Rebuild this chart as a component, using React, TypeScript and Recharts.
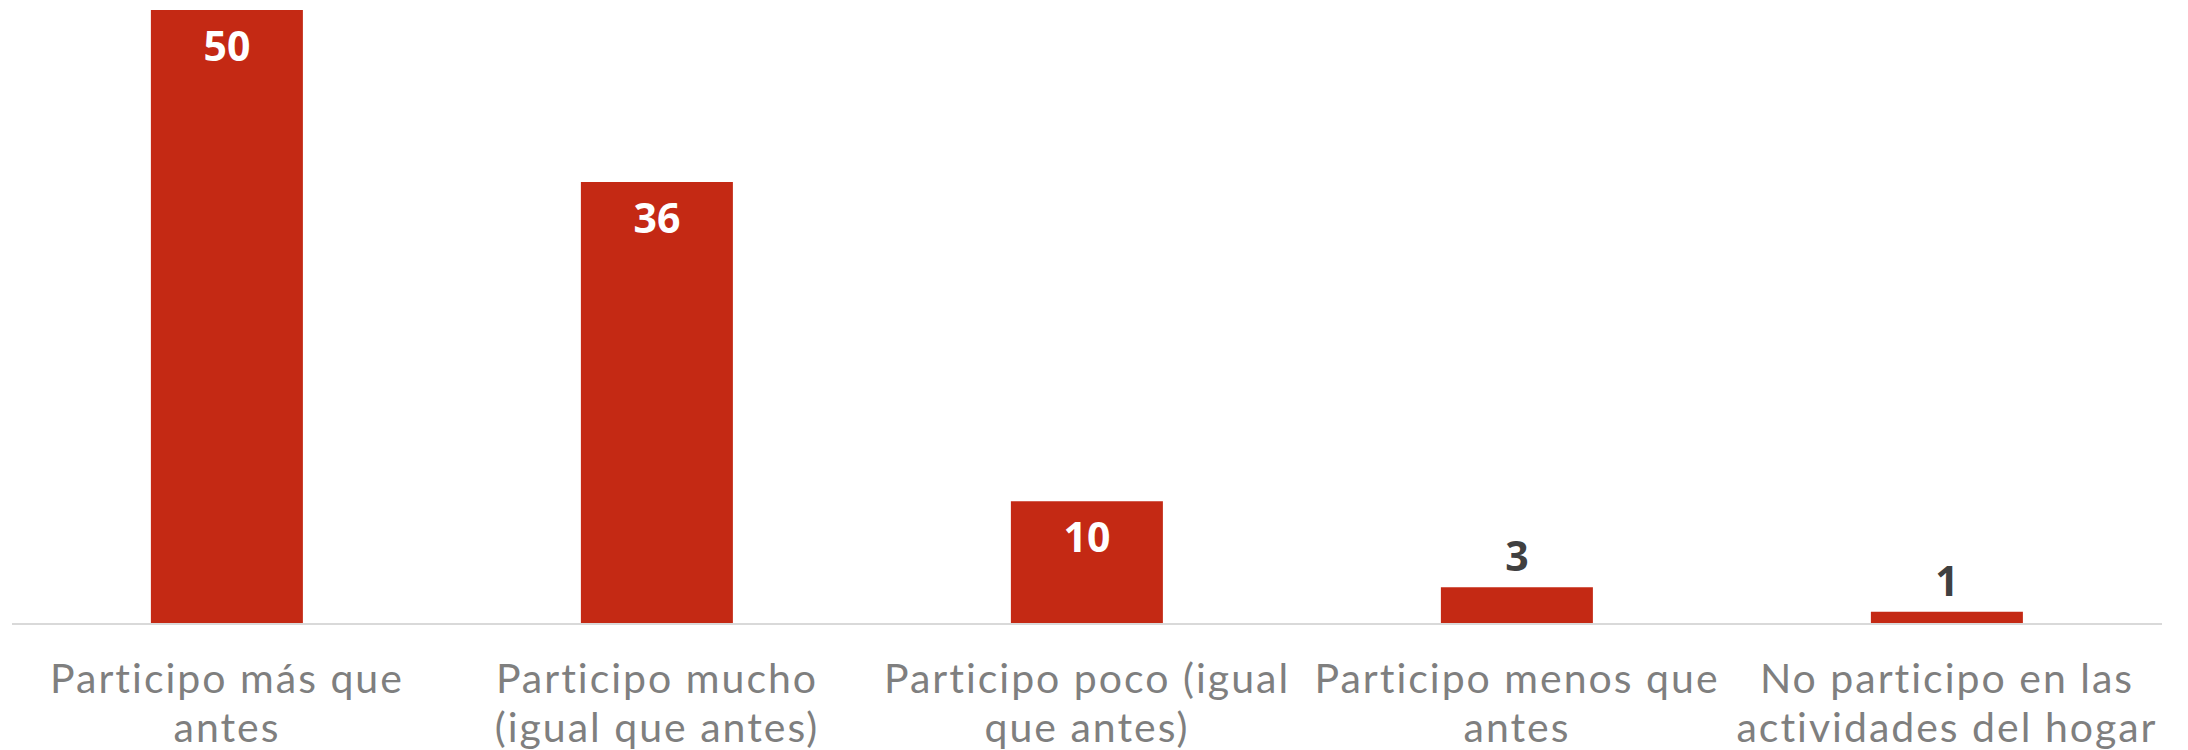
import React from "react";
import { BarChart, Bar, XAxis, YAxis, LabelList } from "recharts";

const categories = [
  "Participo más que\nantes",
  "Participo mucho\n(igual que antes)",
  "Participo poco (igual\nque antes)",
  "Participo menos que\nantes",
  "No participo en las\nactividades del hogar",
];
const values = [50, 36, 10, 3, 1];

const BAR_COLOR = "#C42914";
const TICK_FONT = "Lato, sans-serif";
const LABEL_FONT = "'Open Sans', sans-serif";

const data = categories.map((name, i) => ({ name, value: values[i] }));

function CategoryTick(props: any) {
  const { x, y, payload } = props;
  const lines = String(payload.value).split("\n");
  return (
    <text
      x={x}
      y={y + 45}
      textAnchor="middle"
      dominantBaseline="central"
      fill="#7F7F7F"
      fontSize={41}
      letterSpacing={2}
      fontFamily={TICK_FONT}
    >
      {lines.map((line, i) => (
        <tspan key={i} x={x} dy={i === 0 ? 0 : 49}>
          {line}
        </tspan>
      ))}
    </text>
  );
}

function ValueLabel(props: any) {
  const { x, y, width, value } = props;
  const inside = value >= 10;
  return (
    <text
      x={x + width / 2}
      y={inside ? y + 35 : y - 32}
      textAnchor="middle"
      dominantBaseline="central"
      fill={inside ? "#FFFFFF" : "#404040"}
      fontSize={41}
      fontWeight={700}
      fontFamily={LABEL_FONT}
    >
      {value}
    </text>
  );
}

export default function App() {
  return (
    <div style={{ position: "absolute", left: 0, top: 0, background: "#fff" }}>
      <BarChart
        width={2188}
        height={750}
        data={data}
        margin={{ top: 10, right: 26, left: 12, bottom: 0 }}
        barCategoryGap="32.3%"
      >
        <XAxis
          dataKey="name"
          interval={0}
          height={126}
          tickLine={false}
          axisLine={{ stroke: "#D9D9D9", strokeWidth: 2 }}
          tick={<CategoryTick />}
        />
        <YAxis hide domain={[0, 50]} />
        <Bar dataKey="value" fill={BAR_COLOR} isAnimationActive={false}>
          <LabelList dataKey="value" content={<ValueLabel />} />
        </Bar>
      </BarChart>
    </div>
  );
}
